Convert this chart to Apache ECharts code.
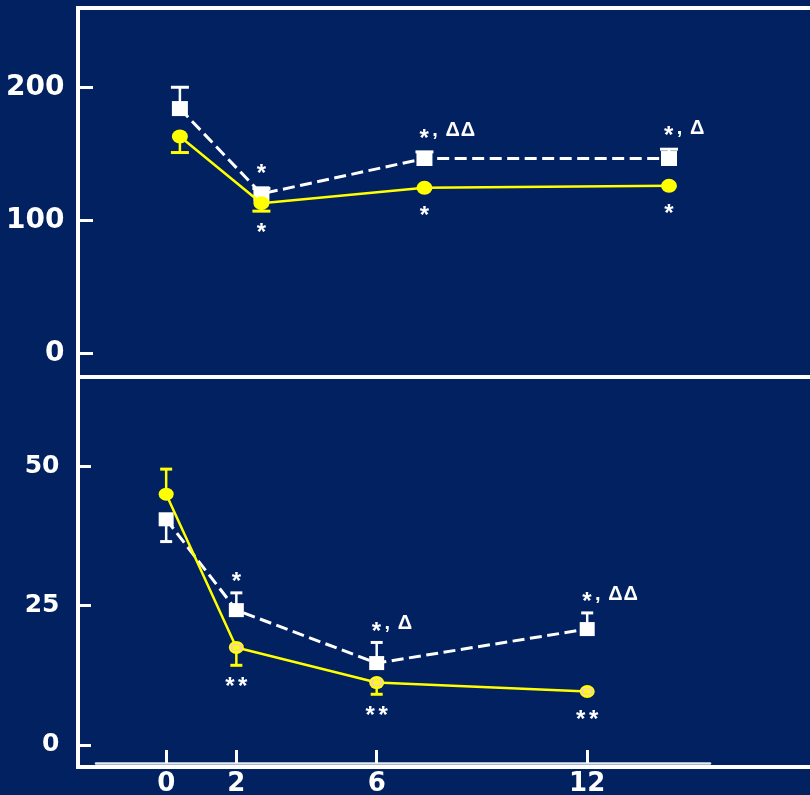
<!DOCTYPE html>
<html>
<head>
<meta charset="utf-8">
<script src="https://cdn.jsdelivr.net/npm/echarts@6/dist/echarts.min.js"></script>
<style>
  html, body { margin: 0; padding: 0; background: #012160; }
  #chart { width: 810px; height: 795px; }
</style>
</head>
<body>
<div id="chart"></div>
<script>
// Sampling times (hours)
const hours = [0, 2, 6, 12];
const hourTicks = ['0', '2', '6', '12'];

// Upper panel
const upperTicks = [0, 100, 200];
const upperOpen = [184, 120, 146.5, 146.5];      // white squares, dashed line
const upperOpenErr = [16, 4, 5, 7];              // sign gives whisker direction
const upperFilled = [163, 113, 124.5, 126];      // yellow circles, solid line
const upperFilledErr = [-12, -6, 0, 0];
const upperOpenSig = ['', '*', '*, ΔΔ', '*, Δ'];
const upperFilledSig = ['', '*', '*', '*'];

// Lower panel
const lowerTicks = [0, 25, 50];
const lowerOpen = [40.5, 24.2, 14.7, 20.8];
const lowerOpenErr = [-4, 3.1, 3.7, 2.9];
const lowerFilled = [45, 17.5, 11.2, 9.6];
const lowerFilledErr = [4.5, -3.2, -2.1, 0];
const lowerOpenSig = ['', '*', '*, Δ', '*, ΔΔ'];
const lowerFilledSig = ['', '**', '**', '**'];

const WHITE = '#ffffff';
const YELLOW = '#ffff00';
const PINK = '#f3c6de';
const ELLIPSE = 'path://M0 5A5 5 0 1 1 10 5A5 5 0 1 1 0 5Z';
const AXIS_FONT = 'DejaVu Sans';
const STAR_FONT = 'bold 24px "Liberation Sans"';
const SIG_FONT = 'bold 20px "Liberation Sans"';
const STAR_DROP = 2.5;
const GLYPH_LIFT = 5.9;

const measureCtx = document.createElement('canvas').getContext('2d');
const fontFor = ch => (ch === '*' ? STAR_FONT : SIG_FONT);
const trackAfter = ch => (ch === '*' ? 3.5 : 1);

function pairs(vals) {
  return hours.map((h, i) => [h, vals[i]]);
}

function withEnds(vals, errs) {
  return hours.map((h, i) => [h, vals[i], vals[i] + errs[i]]);
}

// one-sided whiskers with a flat cap
function errorBars(axis, vals, errs, color, capW) {
  return {
    type: 'custom', xAxisIndex: axis, yAxisIndex: axis, z: 2, silent: true,
    data: withEnds(vals, errs),
    renderItem(params, api) {
      const a = api.coord([api.value(0), api.value(1)]);
      const b = api.coord([api.value(0), api.value(2)]);
      if (Math.abs(a[1] - b[1]) < 0.5) return null;
      return {
        type: 'group',
        children: [
          { type: 'line', shape: { x1: a[0], y1: a[1], x2: b[0], y2: b[1] },
            style: { stroke: color, lineWidth: 2.5 } },
          { type: 'line', shape: { x1: b[0] - capW / 2, y1: b[1], x2: b[0] + capW / 2, y2: b[1] },
            style: { stroke: color, lineWidth: 3 } }
        ]
      };
    }
  };
}

function trace(axis, vals, color, dashed, symbol, size, z) {
  return {
    type: 'line', xAxisIndex: axis, yAxisIndex: axis, z, silent: true,
    data: pairs(vals),
    symbol, symbolSize: size, showAllSymbol: true,
    lineStyle: { color, width: dashed ? 3 : 2.5, type: dashed ? [12, 5.5] : 'solid' },
    itemStyle: { color, borderWidth: 0 },
    emphasis: { disabled: true }
  };
}

// significance marks above (open series) or below (filled series) each point
function sigMarks(axis, vals, errs, labels, side, halfH, gap) {
  return {
    type: 'custom', xAxisIndex: axis, yAxisIndex: axis, z: 6, silent: true,
    data: withEnds(vals, errs),
    renderItem(params, api) {
      const text = labels[params.dataIndex];
      if (!text) return null;
      const c = api.coord([api.value(0), api.value(1)]);
      const e = api.coord([api.value(0), api.value(2)]);
      const cy = side === 'above'
        ? Math.min(c[1] - halfH, e[1]) - gap
        : Math.max(c[1] + halfH, e[1]) + gap;
      const chars = Array.from(text);
      const widths = chars.map(ch => {
        measureCtx.font = fontFor(ch);
        return measureCtx.measureText(ch).width;
      });
      const steps = chars.map((ch, k) => widths[k] + (k < chars.length - 1 ? trackAfter(ch) : 0));
      const total = steps.reduce((s, w) => s + w, 0);
      let x = text.indexOf(',') >= 0 ? c[0] - 5 : c[0] - total / 2;
      const children = chars.map((ch, k) => {
        const el = {
          type: 'text', x, y: ch === '*' ? cy + STAR_DROP : cy - GLYPH_LIFT,
          style: { text: ch, font: fontFor(ch), fill: WHITE, textAlign: 'left', textVerticalAlign: 'middle' }
        };
        x += steps[k];
        return el;
      });
      return { type: 'group', children };
    }
  };
}

function innerRects(axis, vals) {
  return {
    type: 'scatter', xAxisIndex: axis, yAxisIndex: axis, z: 5, silent: true,
    data: pairs(vals).slice(1),
    symbol: 'roundRect', symbolSize: [9, 5.5],
    itemStyle: { color: YELLOW, borderColor: PINK, borderWidth: 2 }
  };
}

function valueAxisY(gridIndex, min, max, ticks, fontSize, margin, tickLen) {
  return {
    type: 'value', gridIndex, min, max,
    axisLine: { show: false, onZero: false },
    splitLine: { show: false },
    axisTick: { show: true, inside: true, length: tickLen, customValues: ticks,
      lineStyle: { color: WHITE, width: 3 } },
    axisLabel: { show: true, customValues: ticks, margin,
      formatter: v => String(v),
      color: WHITE, fontSize, fontWeight: 'bold', fontFamily: AXIS_FONT }
  };
}

const chart = echarts.init(document.getElementById('chart'), null, { renderer: 'canvas' });

chart.setOption({
  backgroundColor: '#012160',
  animation: false,
  grid: [
    { left: 78, top: 8, width: 752, height: 369, outerBoundsMode: 'none', containLabel: false,
      show: true, borderColor: WHITE, borderWidth: 4, backgroundColor: 'transparent' },
    { left: 78, top: 377, width: 752, height: 390, outerBoundsMode: 'none', containLabel: false,
      show: true, borderColor: WHITE, borderWidth: 4, backgroundColor: 'transparent' },
    { left: 96, top: 377, width: 614, height: 386, outerBoundsMode: 'none', containLabel: false }
  ],
  xAxis: [
    { type: 'value', gridIndex: 0, min: -2.5, max: 15.95, show: false },
    { type: 'value', gridIndex: 1, min: 0, max: 1, show: false },
    {
      type: 'value', gridIndex: 2, min: -2, max: 15.5, position: 'bottom',
      splitLine: { show: false },
      axisLine: { show: true, onZero: false, lineStyle: { color: '#e4e9f1', width: 2.5 } },
      axisTick: { show: true, inside: true, length: 13, customValues: hours,
        lineStyle: { color: WHITE, width: 3 } },
      axisLabel: { show: true, customValues: hours, margin: 8,
        formatter: v => hourTicks[hours.indexOf(v)],
        color: WHITE, fontSize: 26, fontWeight: 'bold', fontFamily: AXIS_FONT }
    }
  ],
  yAxis: [
    valueAxisY(0, -17.5, 259.5, upperTicks, 28, 13.5, 15),
    valueAxisY(1, -3.95, 66.03, lowerTicks, 25, 18.5, 13),
    { type: 'value', gridIndex: 2, min: -3.23, max: 66.03, show: false }
  ],
  series: [
    // upper panel
    errorBars(0, upperOpen, upperOpenErr, WHITE, 18),
    errorBars(0, upperFilled, upperFilledErr, YELLOW, 18),
    trace(0, upperOpen, WHITE, true, 'rect', [16, 15], 3),
    trace(0, upperFilled, YELLOW, false, ELLIPSE, [16, 14], 4),
    sigMarks(0, upperOpen, upperOpenErr, upperOpenSig, 'above', 7, 15),
    sigMarks(0, upperFilled, upperFilledErr, upperFilledSig, 'below', 7, 19.5),
    // lower panel
    errorBars(2, lowerOpen, lowerOpenErr, WHITE, 12),
    errorBars(2, lowerFilled, lowerFilledErr, YELLOW, 12),
    trace(2, lowerOpen, WHITE, true, 'rect', [15, 14], 3),
    trace(2, lowerFilled, YELLOW, false, ELLIPSE, [15, 13], 4),
    innerRects(2, lowerFilled),
    sigMarks(2, lowerOpen, lowerOpenErr, lowerOpenSig, 'above', 7, 13),
    sigMarks(2, lowerFilled, lowerFilledErr, lowerFilledSig, 'below', 6.5, 19.5)
  ]
});
</script>
</body>
</html>
